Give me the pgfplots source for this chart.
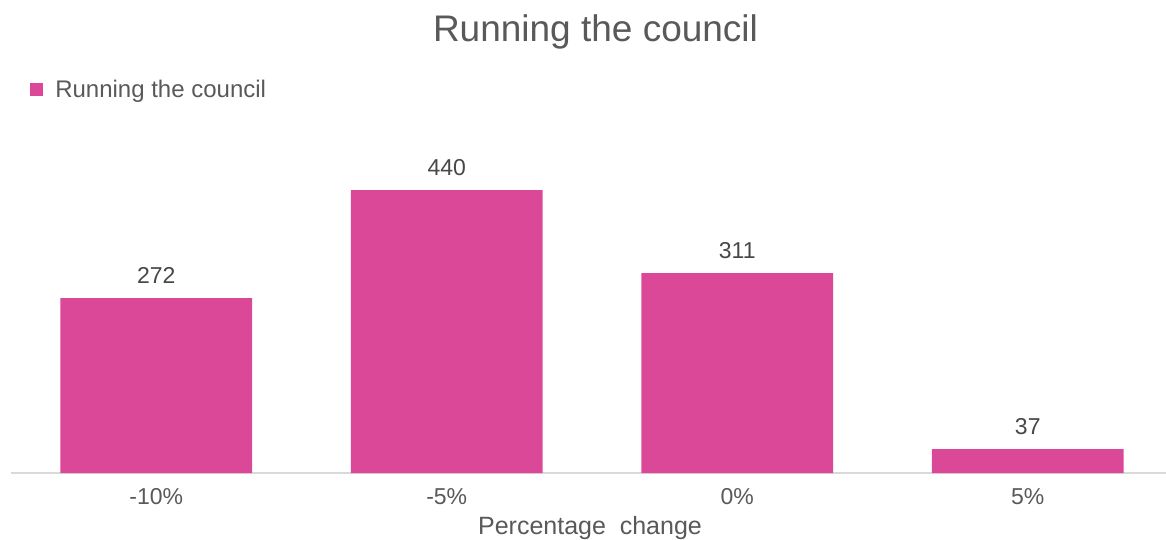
\documentclass[border=0pt]{standalone}
\usepackage{fontspec}
\setmainfont{Liberation Sans}
\usepackage{pgfplots}
\pgfplotsset{compat=1.18}
\definecolor{barpink}{HTML}{DB4898}
\definecolor{txtgray}{HTML}{595959}
\definecolor{axgray}{HTML}{D9D9D9}
\begin{document}
\begin{tikzpicture}[x=1pt,y=1pt]
  \path[use as bounding box] (0,0) rectangle (1166,539);
  \begin{axis}[
      at={(11pt,66pt)}, anchor=south west,
      scale only axis, width=1162pt, height=321.5pt,
      xmin=-0.5, xmax=3.5, ymin=0, ymax=500,
      axis x line*=bottom, axis y line=none,
      x axis line style={draw=axgray, line width=1.5pt, -},
      xtick=data, xticklabels={-10\%,-5\%,0\%,5\%},
      major tick length=0pt,
      xticklabel style={font=\fontsize{23}{27}\selectfont, text=txtgray, yshift=-12pt},
      ytick=\empty,
      /pgf/number format/assume math mode=true,
      nodes near coords,
      every node near coord/.append style={font=\fontsize{23}{27}\selectfont, text=txtgray!80!black, inner sep=0pt, yshift=14pt},
      legend style={at={(axis description cs:0.0164,1.194)}, anchor=west, draw=none, fill=none,
        font=\fontsize{24}{28}\selectfont, text=txtgray, inner sep=0pt,
        nodes={inner sep=0pt}},
      legend image code/.code={\fill[barpink] (0pt,-6.5pt) rectangle (13pt,6.5pt);},
    ]
    \addplot[ybar, bar width=0.66, fill=barpink, draw=none] coordinates {
      (0,272) (1,440) (2,311) (3,37)
    };
    \addlegendentry{\hspace{12pt}Running the council}
  \end{axis}
  \node[anchor=base, text=txtgray, font=\fontsize{37}{42}\selectfont] at (595.5,497) {Running the council};
  \node[anchor=base, text=txtgray, font=\fontsize{25}{29}\selectfont] at (590,5) {Percentage\ \ change};
\end{tikzpicture}
\end{document}
